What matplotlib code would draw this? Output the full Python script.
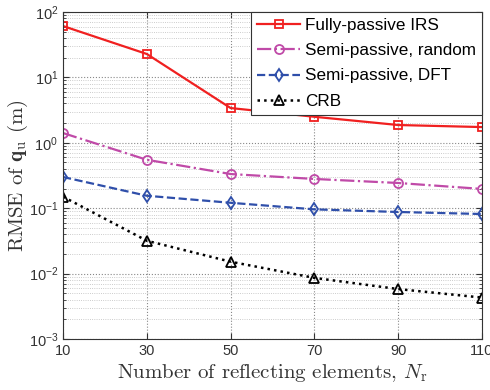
import numpy as np
import matplotlib.pyplot as plt
from matplotlib.ticker import LogLocator, NullFormatter

plt.rcParams['font.family'] = ['Liberation Sans', 'DejaVu Sans']
plt.rcParams['mathtext.fontset'] = 'cm'

n_elements = [10, 30, 50, 70, 90, 110]
fully_passive = [61, 22.8, 3.4, 2.5, 1.87, 1.74]
semi_random = [1.41, 0.55, 0.333, 0.28, 0.243, 0.197]
semi_dft = [0.30, 0.155, 0.121, 0.096, 0.0875, 0.0815]
crb = [0.15, 0.0318, 0.0152, 0.0086, 0.0058, 0.0043]

fig = plt.figure(figsize=(4.9, 3.9), dpi=100)
ax = fig.add_axes([63/490, 1 - 339/390, 419/490, 327/390])

ax.plot(n_elements, fully_passive, color="#f02020", ls="-", lw=1.6, marker="s",
        ms=6, mfc="none", mew=1.3, label="Fully-passive IRS")
ax.plot(n_elements, semi_random, color="#c04aa8", ls="-.", lw=1.6, marker="o",
        ms=6.5, mfc="none", mew=1.3, label="Semi-passive, random")
ax.plot(n_elements, semi_dft, color="#2f4faa", ls="--", lw=1.6, marker="d",
        ms=6.5, mfc="none", mew=1.3, label="Semi-passive, DFT")
ax.plot(n_elements, crb, color="black", ls=":", lw=1.8, marker="^",
        ms=7, mfc="none", mew=1.3, label="CRB")

ax.set_yscale("log")
ax.set_xlim(10, 110)
ax.set_ylim(1e-3, 1e2)
ax.set_xticks(n_elements)
ax.yaxis.set_major_locator(LogLocator(base=10, numticks=10))
ax.yaxis.set_minor_locator(LogLocator(base=10, subs=np.arange(2, 10), numticks=20))
ax.yaxis.set_minor_formatter(NullFormatter())
ax.tick_params(which="both", direction="in", top=True, right=True, labelsize=10.5,
               colors="#333333")
ax.tick_params(which="major", length=4)
ax.tick_params(which="minor", length=2)
ax.grid(True, which="major", ls=":", color="#888888", lw=0.8)
ax.grid(True, which="minor", ls=":", color="#bbbbbb", lw=0.6)
for s in ax.spines.values():
    s.set_color("#333333")

ax.set_xlabel(r"Number of reflecting elements, $N_\mathrm{r}$", family="cmr10",
              fontsize=15, color="#333333", labelpad=3)
ax.set_ylabel(r"RMSE of $\mathbf{q}_\mathrm{u}$ (m)", family="cmr10",
              fontsize=15, color="#333333", labelpad=-1)

leg = ax.legend(loc="upper right", fontsize=12.3, frameon=True, fancybox=False,
                edgecolor="#333333", framealpha=1, borderaxespad=0.0,
                handlelength=2.5, handletextpad=0.3, labelspacing=0.6,
                borderpad=0.35)
leg.get_frame().set_linewidth(0.8)

fig.savefig("out.png", dpi=100)
